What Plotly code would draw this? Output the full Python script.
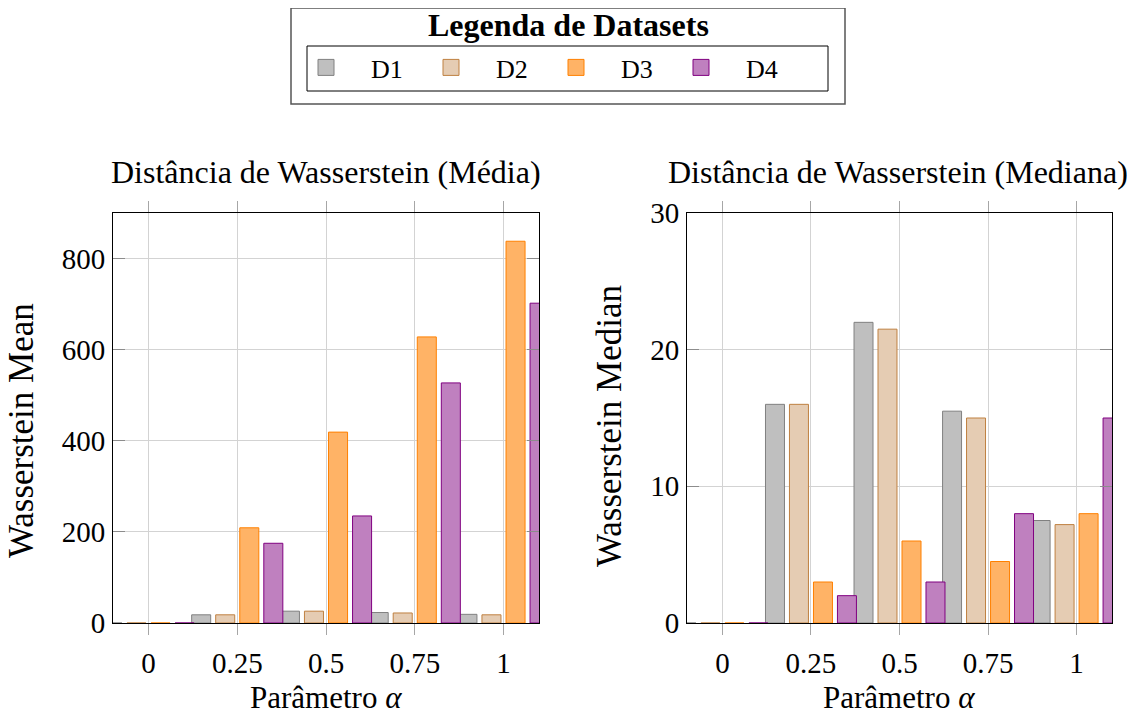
import plotly.graph_objects as go

# ---- data ----
alphas = [0, 0.25, 0.5, 0.75, 1]
tick_text = ["0", "0.25", "0.5", "0.75", "1"]
series_names = ["D1", "D2", "D3", "D4"]

mean_D1 = [0, 18, 26, 23, 19]
mean_D2 = [0, 18, 26, 22, 18]
mean_D3 = [0, 209, 419, 628, 838]
mean_D4 = [0, 175, 235, 527, 702]

median_D1 = [0, 16.0, 22.0, 15.5, 7.5]
median_D2 = [0, 16.0, 21.5, 15.0, 7.2]
median_D3 = [0, 3.0, 6.0, 4.5, 8.0]
median_D4 = [0, 2.0, 3.0, 8.0, 15.0]

mean_ticks = [0, 200, 400, 600, 800]
median_ticks = [0, 10, 20, 30]

# ---- styles ----
fills = ["#bfbfbf", "#e5ccb3", "#ffb366", "#bf80bf"]
edges = ["#808080", "#bf8040", "#ff8000", "#800080"]
bar_w = 0.0536
centers = [-0.1016, -0.0339, 0.0339, 0.1016]
offsets = [c - bar_w / 2 for c in centers]

# page body has an 8px margin; figure sized to fit the window
OFF = 8
W, H = 1135 - OFF, 715 - OFF
def px(v):
    return (v - OFF) / W
def py(v):
    return 1 - (v - OFF) / H

SERIF = "Liberation Serif"

fig = go.Figure()

mean_sets = [mean_D1, mean_D2, mean_D3, mean_D4]
median_sets = [median_D1, median_D2, median_D3, median_D4]

for i, name in enumerate(series_names):
    fig.add_trace(go.Bar(
        x=alphas, y=mean_sets[i], name=name, width=bar_w, offset=offsets[i],
        marker=dict(color=fills[i], line=dict(color=edges[i], width=1)),
        xaxis="x", yaxis="y", showlegend=False))
    fig.add_trace(go.Bar(
        x=alphas, y=median_sets[i], name=name, width=bar_w, offset=offsets[i],
        marker=dict(color=fills[i], line=dict(color=edges[i], width=1)),
        xaxis="x2", yaxis="y2", showlegend=False))

# legend entries
for i, name in enumerate(series_names):
    fig.add_trace(go.Scatter(
        x=[None], y=[None], mode="markers", name=name,
        marker=dict(symbol="square", size=20, color=fills[i],
                    line=dict(color=edges[i], width=1)),
        xaxis="x", yaxis="y", showlegend=True))

grid_c = "#d3d3d3"
tick_c = "#8c8c8c"

xcommon = dict(range=[-0.1, 1.1], tickvals=alphas, ticktext=tick_text,
               showgrid=True, gridcolor=grid_c, gridwidth=1,
               ticks="outside", ticklen=11, tickcolor="#a6a6a6", tickwidth=1,
               showline=True, linecolor="black", linewidth=1, mirror="ticks",
               zeroline=False, ticklabelstandoff=3, automargin=False,
               tickfont=dict(family=SERIF, size=29, color="black"))
ycommon = dict(showgrid=True, gridcolor=grid_c, gridwidth=1,
               ticks="inside", ticklen=12, tickcolor=tick_c, tickwidth=1,
               showline=True, linecolor="black", linewidth=1, mirror="ticks",
               zeroline=False, ticklabelstandoff=1, automargin=False,
               tickfont=dict(family=SERIF, size=29, color="black"))

def ann(text, x, y, size, angle=0):
    return dict(text=text, x=px(x), y=py(y), xref="paper", yref="paper",
                xanchor="center", yanchor="middle", showarrow=False, textangle=angle,
                borderpad=0,
                font=dict(family=SERIF, size=size, color="black"))

fig.update_layout(
    width=W, height=H,
    margin=dict(l=0, r=0, t=0, b=0, autoexpand=False),
    paper_bgcolor="white", plot_bgcolor="white",
    barmode="overlay",
    xaxis=dict(domain=[px(113), px(539)], anchor="y", **xcommon),
    yaxis=dict(domain=[py(623), py(213)], anchor="x", range=[0, 900],
               tickvals=mean_ticks, **ycommon),
    xaxis2=dict(domain=[px(687), px(1112)], anchor="y2", **xcommon),
    yaxis2=dict(domain=[py(623), py(213)], anchor="x2", range=[0, 30],
                tickvals=median_ticks, **ycommon),
    legend=dict(orientation="h", x=px(281), y=py(44), xanchor="left", yanchor="top",
                borderwidth=0, bgcolor="rgba(0,0,0,0)",
                font=dict(family=SERIF, size=26, color="black"),
                itemwidth=80, entrywidth=30, itemsizing="trace", traceorder="normal"),
    shapes=[dict(type="rect", xref="paper", yref="paper",
                 x0=px(291), x1=px(845), y0=py(104), y1=py(8),
                 line=dict(color="#555555", width=1.5), layer="below"),
            dict(type="rect", xref="paper", yref="paper",
                 x0=px(307), x1=px(828), y0=py(91), y1=py(46),
                 line=dict(color="black", width=1), layer="below")],
    annotations=[
        ann("<b>Legenda de Datasets</b>", 568, 25, 32),
        ann("Distância de Wasserstein (Média)", 326, 172, 32),
        ann("Distância de Wasserstein (Mediana)", 898, 172, 32),
        ann("Parâmetro <i>α</i>", 326, 697, 31),
        ann("Parâmetro <i>α</i>", 899, 697, 31),
        ann("Wasserstein Mean", 21, 431, 35, -90),
        ann("Wasserstein Median", 609, 426, 35, -90),
    ],
)

fig.write_html("out.html")
